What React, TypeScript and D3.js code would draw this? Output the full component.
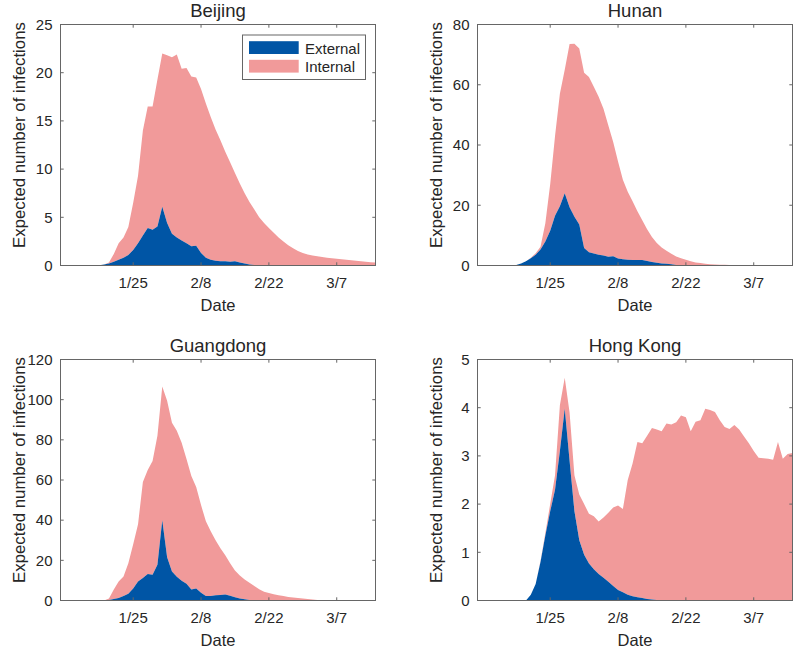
import React from "react";
import * as d3 from "d3";

// ---- categories (daily dates, Jan 10 – Mar 15, 2020) ----
const startDate = new Date(2020, 0, 10);
const endDate = new Date(2020, 2, 15);
const dates: Date[] = d3.timeDay.range(startDate, d3.timeDay.offset(endDate, 1));

const tickDates = [new Date(2020, 0, 25), new Date(2020, 1, 8), new Date(2020, 1, 22), new Date(2020, 2, 7)];
const tickLabels = ["1/25", "2/8", "2/22", "3/7"];
const seriesNames = ["External", "Internal"];

// ---- series values (one per day) ----
const beijingExternal = [
  0, 0, 0, 0, 0, 0, 0, 0,
  0.02, 0.1, 0.2, 0.4, 0.6, 0.8, 1.1,
  1.6, 2.3, 3.1, 3.9, 3.7, 4.05, 6.1, 4.4, 3.3, 2.9, 2.6, 2.3, 2.0, 2.05, 1.3, 0.8, 0.6, 0.5, 0.45, 0.45, 0.4, 0.45, 0.3, 0.2, 0.1, 0.05, 0.02,
  0, 0, 0, 0, 0, 0, 0, 0, 0, 0, 0, 0, 0, 0, 0, 0, 0, 0, 0, 0, 0, 0, 0, 0,
];
const beijingInternal = [
  0, 0, 0, 0, 0, 0, 0, 0,
  0, 0, 0.1, 0.8, 1.7, 2.1, 2.9,
  4.9, 7.0, 10.9, 12.6, 12.8, 15.25, 15.9, 17.4, 18.3, 19.0, 17.8, 18.2, 17.6, 17.45, 17.0, 16.0, 14.8, 13.6, 12.55, 11.35, 10.3, 9.15, 8.2, 7.3, 6.5, 5.75, 4.98,
  4.4, 3.9, 3.4, 2.9, 2.5, 2.1, 1.8, 1.5, 1.3, 1.15, 1.05, 0.95, 0.88, 0.8, 0.75, 0.7, 0.65, 0.6, 0.55, 0.5, 0.45, 0.4, 0.35, 0.3,
];

const hunanExternal = [
  0, 0, 0, 0, 0, 0, 0,
  0, 0.2, 0.7, 1.4, 2.4, 3.6, 5.3, 8.0,
  11.5, 16.5, 19.7, 24, 19.3, 16.2, 13.6, 5.8, 4.4, 4.0, 3.6, 3.3, 2.9, 3.1, 2.3, 2.1, 1.9, 1.8, 1.8, 1.8, 1.5, 1.2, 0.9, 0.7, 0.55, 0.4, 0.2, 0.1,
  0, 0, 0, 0, 0, 0, 0, 0, 0, 0, 0, 0, 0, 0, 0, 0, 0, 0, 0, 0, 0, 0, 0,
];
const hunanInternal = [
  0, 0, 0, 0, 0, 0, 0,
  0, 0, 0, 0, 0.2, 0.5, 0.9, 6.0,
  15.5, 26.5, 37.3, 41, 54.2, 57.4, 58.4, 58.2, 58.2, 55.3, 52.4, 48.7, 43.6, 37.9, 32.2, 26.4, 22.6, 19.5, 16.2, 13.2,
  10.5, 8.3, 6.6, 5.3, 4.35, 3.5, 2.8, 2.3, 1.9, 1.4, 1.0, 0.8, 0.6, 0.45, 0.35, 0.28, 0.22, 0.16, 0.1, 0.05,
  0, 0, 0, 0, 0, 0, 0, 0, 0, 0, 0,
];

const guangdongExternal = [
  0, 0, 0, 0, 0, 0, 0, 0,
  0, 0.05, 0.3, 0.7, 1.3, 2.2, 3.3,
  6.0, 9.5, 11.2, 13.2, 12.8, 17.8, 40, 21.5, 14.5, 11.8, 9.8, 8.3, 5.5, 6.0, 3.8, 2.3, 2.2, 2.6, 2.8, 3.0, 2.4, 1.6, 1.0, 0.6, 0.3, 0.1,
  0, 0, 0, 0, 0, 0, 0, 0, 0, 0, 0, 0, 0, 0, 0, 0, 0, 0, 0, 0, 0, 0, 0, 0, 0,
];
const guangdongInternal = [
  0, 0, 0, 0, 0, 0, 0, 0,
  0, 0, 0.7, 4.8, 8.2, 9.8, 15.2,
  22, 28.5, 47.8, 51.8, 56.7, 64.2, 66.5, 78, 74, 72.7, 68.7, 62.2, 56.5, 50.5, 43.7, 37.2, 32.3, 27.4, 23.2, 19.5,
  16.1, 13.4, 11.5, 9.9, 8.5, 7.1, 5.6, 4.4, 3.7, 3.1, 2.6, 2.2, 1.8, 1.5, 1.2, 1.0, 0.8, 0.55, 0.3, 0.15, 0.05,
  0, 0, 0, 0, 0, 0, 0, 0, 0, 0,
];

const hongKongExternal = [
  0, 0, 0, 0, 0, 0, 0, 0, 0, 0,
  0, 0.12, 0.34, 0.8, 1.35,
  1.85, 2.3, 3.1, 3.98, 2.9, 1.85, 1.25, 0.95, 0.77, 0.65, 0.55, 0.47, 0.39, 0.3, 0.22, 0.17, 0.12, 0.09, 0.07, 0.05, 0.03, 0.02, 0.01,
  0, 0, 0, 0, 0, 0, 0, 0, 0, 0, 0, 0, 0, 0, 0, 0, 0, 0, 0, 0, 0, 0, 0, 0, 0, 0, 0, 0,
];
const hongKongInternal = [
  0, 0, 0, 0, 0, 0, 0, 0, 0, 0,
  0, 0, 0, 0.02, 0.05,
  0.15, 0.3, 0.95, 0.64, 1.0, 0.75, 0.95, 1.05, 1.03, 1.1, 1.09, 1.25, 1.43, 1.63, 1.75, 1.73, 2.38, 2.75, 3.22, 3.21,
  3.39, 3.56, 3.54, 3.51, 3.67, 3.65, 3.7, 3.84, 3.8, 3.51, 3.71, 3.74, 3.98, 3.95, 3.91, 3.74, 3.6, 3.56, 3.64, 3.55,
  3.4, 3.26, 3.1, 2.96, 2.95, 2.94, 2.92, 3.29, 2.94, 3.04, 3.06,
];

// ---- y axis ticks ----
const beijingYTicks = [0, 5, 10, 15, 20, 25];
const hunanYTicks = [0, 20, 40, 60, 80];
const guangdongYTicks = [0, 20, 40, 60, 80, 100, 120];
const hongKongYTicks = [0, 1, 2, 3, 4, 5];

const COLORS = ["#0055a5", "#f19a9a"];
const FONT = "'Liberation Sans', Arial, Helvetica, sans-serif";
const TXT = "#262626";
const AXC = "#666666";

type PanelProps = {
  title: string;
  external: number[];
  internal: number[];
  yTicks: number[];
  left: number;
  top: number;
  legend?: boolean;
};

const W = 315;
const H = 241;

function Panel({ title, external, internal, yTicks, left, top, legend }: PanelProps) {
  const x = d3.scaleTime().domain([startDate, endDate]).range([left, left + W]);
  const yMax = yTicks[yTicks.length - 1];
  const y = d3.scaleLinear().domain([0, yMax]).range([top + H, top]);

  const rows = dates.map((d, i) => ({ date: d, External: external[i], Internal: internal[i] }));
  const stacked = d3.stack<any>().keys(seriesNames)(rows);
  const area = d3
    .area<any>()
    .x((d) => x(d.data.date))
    .y0((d) => y(d[0]))
    .y1((d) => y(d[1]))
    .curve(d3.curveLinear);

  const tl = 3.2;
  const bottom = top + H;
  const right = left + W;
  const midX = left + W / 2;
  const clipId = "clip-" + title.replace(/\s/g, "");

  return (
    <g>
      <defs>
        <clipPath id={clipId}>
          <rect x={left} y={top} width={W} height={H} />
        </clipPath>
      </defs>
      <g clipPath={`url(#${clipId})`}>
        {stacked
          .slice()
          .reverse()
          .map((s) => (
            <path key={s.key} d={area(s) || ""} fill={COLORS[seriesNames.indexOf(s.key)]} stroke="none" />
          ))}
      </g>
      {/* box */}
      <rect x={left} y={top} width={W} height={H} fill="none" stroke={AXC} strokeWidth={1} />
      {/* x ticks */}
      {tickDates.map((d, i) => (
        <g key={"xt" + i}>
          <line x1={x(d)} x2={x(d)} y1={bottom} y2={bottom - tl} stroke={AXC} />
          <line x1={x(d)} x2={x(d)} y1={top} y2={top + tl} stroke={AXC} />
          <text x={x(d)} y={bottom + 22.6} textAnchor="middle" fontSize={15} fill={TXT} fontFamily={FONT}>
            {tickLabels[i]}
          </text>
        </g>
      ))}
      {/* y ticks */}
      {yTicks.map((v, i) => (
        <g key={"yt" + i}>
          <line x1={left} x2={left + tl} y1={y(v)} y2={y(v)} stroke={AXC} />
          <line x1={right} x2={right - tl} y1={y(v)} y2={y(v)} stroke={AXC} />
          <text x={left - 8} y={y(v) + 5.3} textAnchor="end" fontSize={15} fill={TXT} fontFamily={FONT}>
            {v}
          </text>
        </g>
      ))}
      {/* title */}
      <text x={midX} y={top - 7.5} textAnchor="middle" fontSize={18.5} fill={TXT} fontFamily={FONT}>
        {title}
      </text>
      {/* x label */}
      <text x={midX} y={bottom + 45} textAnchor="middle" fontSize={16.5} fill={TXT} fontFamily={FONT}>
        Date
      </text>
      {/* y label */}
      <text
        transform={`translate(${left - 36},${top + H / 2 - 10}) rotate(-90)`}
        textAnchor="middle"
        fontSize={16.8}
        fill={TXT}
        fontFamily={FONT}
      >
        Expected number of infections
      </text>
      {legend && (
        <g>
          <rect x={right - 133} y={top + 10.5} width={123} height={44.5} fill="#ffffff" stroke={AXC} strokeWidth={1} />
          {seriesNames.map((name, i) => (
            <g key={name}>
              <rect x={right - 126.5} y={top + 16.7 + i * 18.6} width={49.7} height={12.8} fill={COLORS[i]} />
              <text x={right - 70.5} y={top + 29.3 + i * 18.6} fontSize={15} fill={TXT} fontFamily={FONT}>
                {name}
              </text>
            </g>
          ))}
        </g>
      )}
    </g>
  );
}

export default function App() {
  return (
    <svg
      width={795}
      height={651}
      style={{ position: "absolute", left: 0, top: 0, background: "#ffffff" }}
      xmlns="http://www.w3.org/2000/svg"
    >
      <rect x={0} y={0} width={795} height={651} fill="#ffffff" />
      <Panel title="Beijing" external={beijingExternal} internal={beijingInternal} yTicks={beijingYTicks} left={60.5} top={24.5} legend />
      <Panel title="Hunan" external={hunanExternal} internal={hunanInternal} yTicks={hunanYTicks} left={477.5} top={24.5} />
      <Panel title="Guangdong" external={guangdongExternal} internal={guangdongInternal} yTicks={guangdongYTicks} left={60.5} top={359.5} />
      <Panel title="Hong Kong" external={hongKongExternal} internal={hongKongInternal} yTicks={hongKongYTicks} left={477.5} top={359.5} />
    </svg>
  );
}
